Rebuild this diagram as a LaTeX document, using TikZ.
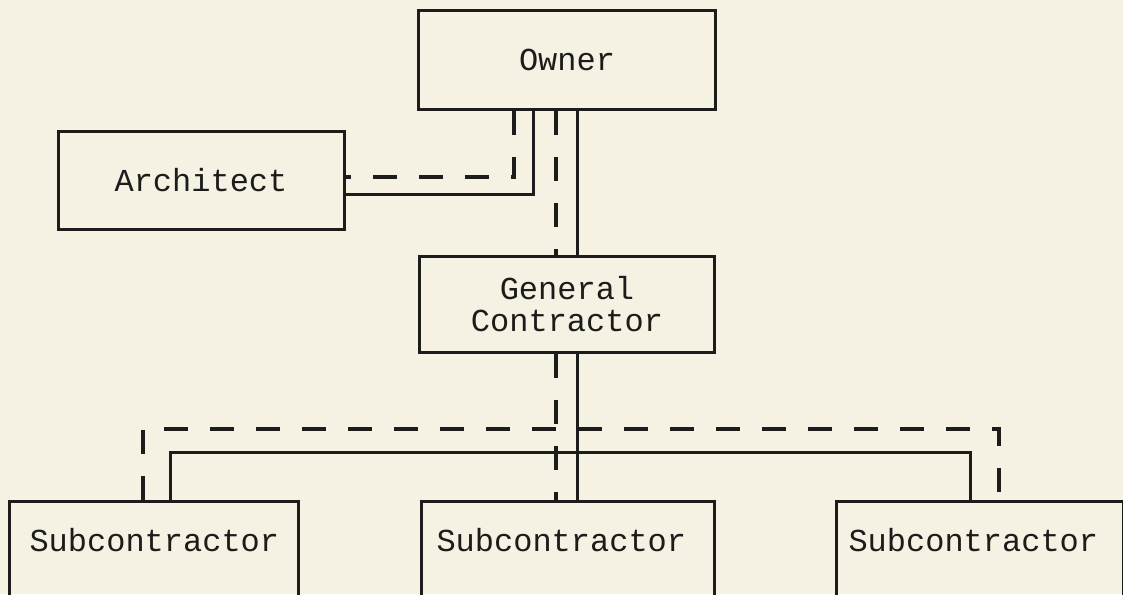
\documentclass[tikz,border=0pt]{standalone}
\usepackage{fontspec}
\setmainfont{Liberation Mono}
\definecolor{bg}{RGB}{245,242,227}
\definecolor{ink}{RGB}{28,28,26}
\begin{document}
\begin{tikzpicture}[x=1pt,y=-1pt,
  box/.style={draw=ink, line width=3pt, text=ink, inner sep=0pt, align=center,
    font=\fontsize{32}{32}\selectfont},
  subbox/.style={draw=ink, line width=3pt, text=ink, anchor=north west, inner ysep=0pt,
    text height=50pt, text depth=70pt, align=left, font=\fontsize{32}{32}\selectfont},
  sol/.style={draw=ink, line width=3pt},
  dsh/.style={draw=ink, line width=3.3pt, dash pattern=on 24pt off 22pt}]
\fill[bg] (0,0) rectangle (1123,594);
\useasboundingbox (0,0) rectangle (1123,594);
\clip (0,0) rectangle (1123,594);
% boxes
\node[box, minimum width=297pt, minimum height=98pt] (own) at (567,60) {Owner};
\node[box, minimum width=286pt, minimum height=98pt] (arc) at (201,180) {Architect};
\node[box, minimum width=295pt, minimum height=96pt] (gc) at (567,304) {General\\Contractor};
\node[subbox, inner xsep=20pt, text width=249pt] (ls) at (8,500) {Subcontractor};
\node[subbox, inner xsep=15pt, text width=263pt] (ms) at (420,500) {Subcontractor};
\node[subbox, inner xsep=12pt, text width=263pt] (rs) at (835,500) {Subcontractor};
% owner - architect
\draw[dsh] ([xshift=-53pt]own.south) |- ([yshift=3pt]arc.east);
\draw[sol] ([xshift=-34pt]own.south) |- ([yshift=-14pt]arc.east);
% owner - general contractor
\draw[dsh] ([xshift=-11pt]own.south) coordinate (od) -- (od |- gc.north);
\draw[sol] ([xshift=10pt]own.south) coordinate (os) -- (os |- gc.north);
% general contractor - middle subcontractor
\draw[dsh] ([xshift=-11pt]gc.south) coordinate (gd) -- (gd |- ms.north);
\draw[sol] ([xshift=10pt]gc.south) coordinate (gs) -- (gs |- ms.north);
% buses to outer subcontractors
\draw[dsh] ([xshift=135pt]ls.north west) -- ++(0,71pt) -| ([xshift=-126pt]rs.north east);
\draw[sol] ([xshift=162pt]ls.north west) -- ++(0,48pt) -| ([xshift=-155pt]rs.north east);
\end{tikzpicture}
\end{document}
